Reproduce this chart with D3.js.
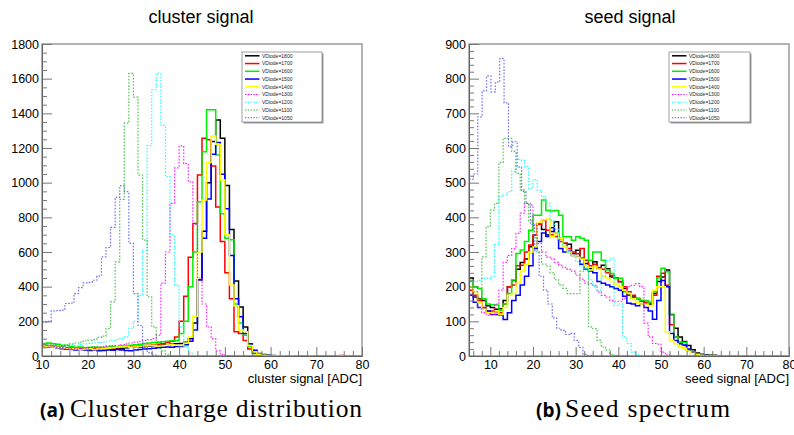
<!DOCTYPE html>
<html>
<head>
<meta charset="utf-8">
<script src="https://cdn.jsdelivr.net/npm/d3@7"></script>
<style>
  body { margin: 0; background: #fff; }
  svg { display: block; }
</style>
</head>
<body>
<svg id="fig" width="794" height="435"></svg>
<script>
// ---------------- data ----------------
const seriesNames = ["VDiode=1800", "VDiode=1700", "VDiode=1600", "VDiode=1500", "VDiode=1400",
                     "VDiode=1300", "VDiode=1200", "VDiode=1100", "VDiode=1050"];

// cluster signal: 1 ADC bins from 10 to 80
const clusterRange = [10, 80];
const cluster1800 = [60,58,55,52,50,48,45,42,45,40,42,40,38,40,42,40,45,42,48,50,52,50,55,58,60,62,65,60,68,70,
  72,80,100,190,440,720,1000,1237,1362,1256,984,730,432,283,168,71,33,15,8,4,
  3,2,2,1,1,1,0,1,0,0,1,0,0,0,1,0,0,0,1,0];
const cluster1700 = [62,60,58,52,45,42,40,42,40,38,40,42,45,40,42,45,48,50,52,50,55,58,60,62,65,68,70,78,85,110,
  200,345,570,765,1044,1256,1248,1096,860,660,480,330,140,130,90,40,15,8,4,2,
  2,1,1,1,0,1,0,0,1,0,0,0,1,0,0,3,2,1,0,0];
const cluster1600 = [72,75,70,68,62,60,55,50,52,48,50,52,50,48,52,55,52,58,60,62,65,68,72,75,78,80,82,85,88,90,
  130,200,400,600,890,1178,1420,1420,1160,820,680,670,300,190,120,55,20,10,5,3,
  2,2,1,1,0,1,0,0,0,1,0,0,0,1,0,0,0,0,0,0];
const cluster1500 = [55,52,50,48,42,40,38,35,38,35,32,35,30,32,35,33,38,35,32,30,35,38,40,42,45,48,50,52,50,55,
  55,65,85,150,440,680,906,1164,1232,1048,850,580,330,226,130,70,30,12,5,3,
  2,1,1,0,1,0,0,1,0,0,0,0,0,1,0,0,0,0,0,0];
const cluster1400 = [58,55,52,50,48,45,42,40,38,40,42,38,40,42,45,48,50,52,55,50,52,55,58,60,62,58,60,62,65,62,
  60,75,110,230,600,900,1117,1269,1222,1016,700,410,290,150,140,60,25,10,4,2,
  1,1,1,0,1,0,0,0,1,0,0,0,0,0,0,2,0,0,0,0];
const cluster1300 = [62,58,55,50,48,45,42,40,42,45,48,50,52,55,58,60,62,65,70,75,
  80,85,90,95,100,120,420,600,880,1085,1212,1110,1005,760,450,300,168,100,30,8,2,
  0,0,0,0,0,0,0,0,0,0,0,0,0,0,0,0,0,0,0,0,0,0,0,0,0,0,0,0,0];
const cluster1200 = [65,62,60,58,60,62,65,62,66,70,72,75,78,80,85,90,95,100,
  110,160,200,350,610,1214,1536,1630,1330,1035,700,409,168,55,15,3,1,0,
  0,0,0,0,0,0,0,0,0,0,0,0,0,0,0,0,0,0,0,0,0,0,0,0,0,0,0,0,0,0,0,0,0,0];
const cluster1100 = [65,72,70,62,60,65,70,75,80,88,92,95,108,115,
  158,312,543,904,1343,1630,1493,1044,669,341,168,80,30,10,3,1,
  0,0,0,0,0,0,0,0,0,0,0,0,0,0,0,0,0,0,0,0,0,0,0,0,0,0,0,0,0,0,0,0,0,0,0,0,0,0,0,0];
const cluster1050 = [196,200,260,262,265,303,305,360,395,422,425,437,461,572,626,742,915,983,948,650,360,177,50,20,5,
  0,0,0,0,0,0,0,0,0,0,0,0,0,0,0,0,0,0,0,0,0,0,0,0,0,0,0,0,0,0,0,0,0,0,0,0,0,0,0,0,0,0,0,0,0];

// seed signal: 1 ADC bins from 5 to 80
const seedRange = [5, 80];
const seed1800 = [225,170,165,160,145,140,135,136,160,200,218,250,270,280,315,349,382,365,349,359,387,339,325,322,
  296,305,282,267,252,272,250,262,252,228,225,214,195,176,170,166,158,152,150,180,215,228,248,120,
  80,55,42,30,18,9,5,3,3,2,1,1,0,1,0,0,1,0,0,0,0,1,0,0,0,0,0];
const seed1700 = [190,175,160,140,130,130,128,125,150,200,205,260,262,300,320,350,380,392,363,350,345,330,325,310,
  300,295,310,276,260,265,255,250,240,232,225,215,200,185,175,165,160,155,152,175,230,239,204,90,
  55,40,30,18,10,6,3,2,2,1,1,0,0,1,0,0,0,0,1,0,0,0,0,0,0,0,0];
const seed1600 = [215,200,195,165,150,148,147,132,150,180,219,296,306,330,363,406,406,450,420,418,420,406,344,344,
  334,344,340,334,276,300,300,276,248,238,224,224,185,180,166,166,160,160,156,185,225,253,243,118,
  55,40,40,17,12,6,4,2,2,1,1,1,0,0,1,0,0,0,0,0,1,0,0,0,0,0,0];
const seed1500 = [175,155,140,135,130,120,120,118,105,125,160,175,205,230,260,310,330,355,345,370,355,310,300,302,
  290,285,265,250,245,240,215,210,205,200,195,190,172,152,150,145,150,140,130,106,160,218,200,65,
  45,35,32,20,10,5,3,2,1,1,1,0,0,0,1,0,0,0,0,0,0,0,0,0,0,0,0];
const seed1400 = [200,185,155,135,125,125,130,120,140,175,180,210,245,265,300,315,385,393,395,345,355,340,315,300,
  290,285,280,260,248,258,250,230,225,215,205,200,190,180,165,155,150,150,145,190,200,200,70,45,
  35,28,22,14,8,4,2,1,1,1,0,0,0,0,0,0,0,0,0,0,0,0,0,0,0,0,0];
const seed1300 = [175,170,140,125,118,120,150,190,270,290,310,354,412,440,435,376,324,300,285,280,270,262,255,250,
  245,233,222,210,209,204,185,175,170,160,158,158,166,200,204,209,200,95,55,36,34,11,3,0,
  0,0,0,0,0,0,0,0,0,0,0,0,0,0,0,0,0,0,0,0,0,0,0,0,0,0,0];
const seed1200 = [220,215,218,224,224,230,322,460,465,474,533,567,565,546,483,509,478,460,440,390,365,330,320,300,
  290,272,260,252,220,200,190,230,275,282,146,150,55,36,11,3,
  0,0,0,0,0,0,0,0,0,0,0,0,0,0,0,0,0,0,0,0,0,0,0,0,0,0,0,0,0,0,0,0,0,0,0];
const seed1100 = [200,185,165,286,373,421,440,558,628,628,590,527,479,440,390,340,300,265,260,240,220,205,195,180,
  180,180,245,250,84,79,45,26,17,5,2,
  0,0,0,0,0,0,0,0,0,0,0,0,0,0,0,0,0,0,0,0,0,0,0,0,0,0,0,0,0,0,0,0,0,0,0,0,0,0,0,0];
const seed1050 = [510,525,690,765,808,762,790,858,730,604,618,545,475,440,380,300,230,190,150,110,80,74,62,65,45,25,5,2,
  0,0,0,0,0,0,0,0,0,0,0,0,0,0,0,0,0,0,0,0,0,0,0,0,0,0,0,0,0,0,0,0,0,0,0,0,0,0,0,0,0,0,0,0,0];

// ---------------- styling ----------------
const lineColors = ["#000000", "#ff0000", "#00ee00", "#0000ff", "#ffff00",
                    "#ff00ff", "#00ffff", "#33bb33", "#5a5af0"];
const dotted     = [false, false, false, false, false, true, true, true, true];

const svg = d3.select("#fig");
const axisFont = "'Liberation Sans', Arial, Helvetica, sans-serif";

function drawPanel(opts) {
  const { x0, x1, y0, y1, xDomain, yMax, yMajor, yMinor, xMinor, title, titleX, xTitle,
          series, legendX, legendW } = opts;
  const g = svg.append("g");
  const x = d3.scaleLinear().domain(xDomain).range([x0, x1]);
  const y = d3.scaleLinear().domain([0, yMax]).range([y1, y0]);

  // title
  g.append("text").attr("x", titleX).attr("y", 23).attr("text-anchor", "middle")
    .style("font-family", axisFont).style("font-size", "18px").text(title);

  // frame
  g.append("rect").attr("x", x0).attr("y", y0).attr("width", x1 - x0).attr("height", y1 - y0)
    .attr("fill", "none").attr("stroke", "#a0a0a0").attr("stroke-width", 1.6);

  // histograms (step outlines)
  const line = d3.line().curve(d3.curveStepAfter).x(d => x(d[0])).y(d => y(d[1]));
  series.forEach((vals, i) => {
    const w = (xDomain[1] - xDomain[0]) / vals.length;
    const pts = vals.map((v, k) => [xDomain[0] + k * w, v]);
    pts.push([xDomain[1], vals[vals.length - 1]]);
    g.append("path").attr("d", line(pts)).attr("fill", "none")
      .attr("stroke", lineColors[i])
      .attr("stroke-width", dotted[i] ? 1.2 : 1.5)
      .attr("stroke-dasharray", dotted[i] ? "1.6 1.6" : null)
      .attr("opacity", dotted[i] ? 0.85 : 1);
  });

  // y axis (ticks pointing into the frame)
  const yMajorTicks = d3.range(0, yMax + 1, yMajor);
  const yMinorTicks = d3.range(0, yMax + 1, yMinor).filter(v => v % yMajor !== 0);
  g.append("g").attr("transform", `translate(${x0},0)`)
    .call(d3.axisLeft(y).tickValues(yMajorTicks).tickSize(-10).tickSizeOuter(0).tickPadding(3).tickFormat(d3.format("d")));
  g.append("g").attr("transform", `translate(${x0},0)`)
    .call(d3.axisLeft(y).tickValues(yMinorTicks).tickSize(-5).tickSizeOuter(0).tickFormat(""));

  // x axis
  const xMajorTicks = d3.range(10, xDomain[1] + 1, 10);
  const xMinorTicks = d3.range(Math.ceil(xDomain[0] / xMinor) * xMinor, xDomain[1] + 0.01, xMinor)
    .filter(v => v % 10 !== 0);
  g.append("g").attr("transform", `translate(0,${y1})`)
    .call(d3.axisBottom(x).tickValues(xMajorTicks).tickSize(-9).tickSizeOuter(0).tickPadding(4).tickFormat(d3.format("d")));
  g.append("g").attr("transform", `translate(0,${y1})`)
    .call(d3.axisBottom(x).tickValues(xMinorTicks).tickSize(-5).tickSizeOuter(0).tickFormat(""));

  g.selectAll(".domain").attr("stroke", "#606060");
  g.selectAll(".tick line").attr("stroke", "#777");
  g.selectAll(".tick text").style("font-family", axisFont).style("font-size", "12.5px").attr("fill", "#000");

  // x axis title
  g.append("text").attr("x", x1).attr("y", 383).attr("text-anchor", "end")
    .style("font-family", axisFont).style("font-size", "13px").text(xTitle);

  // legend
  const ly = 52, lh = 70;
  g.append("rect").attr("x", legendX + 1.5).attr("y", ly + 1.5).attr("width", legendW).attr("height", lh)
    .attr("fill", "#999");
  g.append("rect").attr("x", legendX).attr("y", ly).attr("width", legendW).attr("height", lh)
    .attr("fill", "#fff").attr("stroke", "#888").attr("stroke-width", 0.8);
  seriesNames.forEach((name, i) => {
    const yy = ly + 3.8 + i * 7.75;
    g.append("line").attr("x1", legendX + 3).attr("x2", legendX + 17.5).attr("y1", yy).attr("y2", yy)
      .attr("stroke", lineColors[i]).attr("stroke-width", dotted[i] ? 1.1 : 1.5)
      .attr("stroke-dasharray", dotted[i] ? "1.4 1.4" : null);
    g.append("text").attr("x", legendX + 20).attr("y", yy + 1.8)
      .style("font-family", axisFont).style("font-size", "5px").attr("fill", "#222").text(name);
  });
}

drawPanel({
  x0: 42, x1: 362, y0: 44, y1: 356, xDomain: clusterRange, yMax: 1800, yMajor: 200, yMinor: 50, xMinor: 2,
  title: "cluster signal", titleX: 201, xTitle: "cluster signal [ADC]",
  series: [cluster1800, cluster1700, cluster1600, cluster1500, cluster1400,
           cluster1300, cluster1200, cluster1100, cluster1050],
  legendX: 242, legendW: 80
});

drawPanel({
  x0: 469, x1: 789, y0: 44, y1: 356, xDomain: seedRange, yMax: 900, yMajor: 100, yMinor: 20, xMinor: 2,
  title: "seed signal", titleX: 630, xTitle: "seed signal [ADC]",
  series: [seed1800, seed1700, seed1600, seed1500, seed1400,
           seed1300, seed1200, seed1100, seed1050],
  legendX: 669, legendW: 81
});

// sub-figure captions
const captions = [
  { tag: "(a)", text: "Cluster charge distribution", x: 40, tx: 70, width: 292 },
  { tag: "(b)", text: "Seed spectrum", x: 536, tx: 565, width: 165 }
];
captions.forEach(c => {
  svg.append("text").attr("x", c.x).attr("y", 417)
    .style("font-family", "'Open Sans', 'Noto Sans', sans-serif").style("font-weight", "700")
    .style("font-size", "19px").text(c.tag);
  svg.append("text").attr("x", c.tx).attr("y", 417)
    .attr("textLength", c.width).attr("lengthAdjust", "spacing")
    .style("font-family", "'Liberation Serif', 'DejaVu Serif', serif")
    .style("font-size", "25.5px").text(c.text);
});
</script>
</body>
</html>
